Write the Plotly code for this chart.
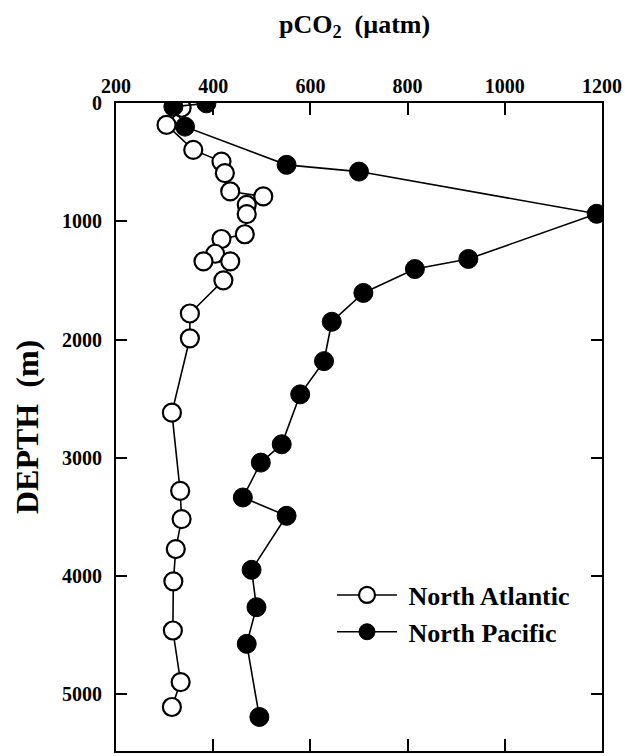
import plotly.graph_objects as go

# North Atlantic (open circles)
atl_depth = [40, 185, 397, 495, 593, 748, 790, 861, 940, 1110, 1150, 1275, 1339, 1339, 1500,
             1780, 1990, 2619, 3280, 3519, 3772, 4045, 4461, 4897, 5108]
atl_pco2 = [335, 304, 359, 417, 424, 435, 503, 469, 469, 465, 417, 404, 380, 435, 421,
            352, 352, 315, 332, 335, 323, 318, 317, 333, 315]

# North Pacific (filled circles)
pac_depth = [3, 31, 200, 523, 580, 937, 1319, 1404, 1606, 1850, 2183, 2464, 2886, 3041,
             3336, 3491, 3948, 4264, 4574, 5192]
pac_pco2 = [386, 318, 342, 551, 700, 1189, 925, 815, 709, 644, 628, 579, 541, 498,
            461, 551, 479, 489, 469, 495]

x_ticks = [200, 400, 600, 800, 1000, 1200]
y_ticks = [0, 1000, 2000, 3000, 4000, 5000]

FONT = "Liberation Serif"
NB = "\u00a0"

fig = go.Figure()
fig.add_trace(go.Scatter(
    x=atl_pco2, y=atl_depth, mode="lines+markers", name=NB + "North Atlantic",
    line=dict(color="black", width=1.6),
    marker=dict(symbol="circle", size=18, color="white", line=dict(color="black", width=2.2)),
))
fig.add_trace(go.Scatter(
    x=pac_pco2, y=pac_depth, mode="lines+markers", name=NB + "North Pacific",
    line=dict(color="black", width=1.6),
    marker=dict(symbol="circle", size=19, color="black", line=dict(color="black", width=1)),
))

W, H = 625, 756
L, R, T, B = 116, 23, 103, 3
pw = W - L - R
ph = H - T - B


def px_x(sx):
    return (sx - L) / pw


def px_y(sy):
    return (H - B - sy) / ph


fig.update_layout(
    width=W, height=H,
    margin=dict(l=L, r=R, t=T, b=B),
    paper_bgcolor="white", plot_bgcolor="white",
    font=dict(family=FONT, color="black", size=20, weight="bold"),
    showlegend=True,
    legend=dict(
        x=px_x(332), y=px_y(573),
        xanchor="left", yanchor="top",
        font=dict(family=FONT, size=26, color="black", weight="bold"),
        bgcolor="rgba(0,0,0,0)", itemwidth=60, tracegroupgap=0,
    ),
    xaxis=dict(
        range=[200, 1200], side="top", tickvals=x_ticks,
        ticks="inside", ticklen=12, tickwidth=1.5, tickcolor="black",
        showline=True, linecolor="black", linewidth=1.8, mirror="ticks",
        showgrid=False, zeroline=False,
        tickfont=dict(family=FONT, size=20, color="black", weight="bold"),
    ),
    yaxis=dict(
        range=[5480, 0], tickvals=y_ticks,
        ticks="inside", ticklen=11, tickwidth=1.5, tickcolor="black",
        showline=True, linecolor="black", linewidth=1.8, mirror="ticks",
        showgrid=False, zeroline=False, ticklabelstandoff=8,
        tickfont=dict(family=FONT, size=20, color="black", weight="bold"),
    ),
)

fig.add_annotation(
    text="pCO<sub>2</sub>  (µatm)", xref="paper", yref="paper",
    x=px_x(354), y=px_y(26),
    xanchor="center", yanchor="middle", showarrow=False,
    font=dict(family=FONT, size=26, color="black", weight="bold"),
)
fig.add_annotation(
    text="DEPTH  (m)", xref="paper", yref="paper",
    x=px_x(27), y=px_y(428),
    xanchor="center", yanchor="middle", showarrow=False, textangle=-90,
    font=dict(family=FONT, size=32, color="black", weight="bold"),
)

# remove the default page margin so the figure fills the window exactly
fig.write_html(
    "out.html",
    config={"displayModeBar": False},
    post_script="document.body.style.margin='0';document.body.style.overflow='hidden';",
)
